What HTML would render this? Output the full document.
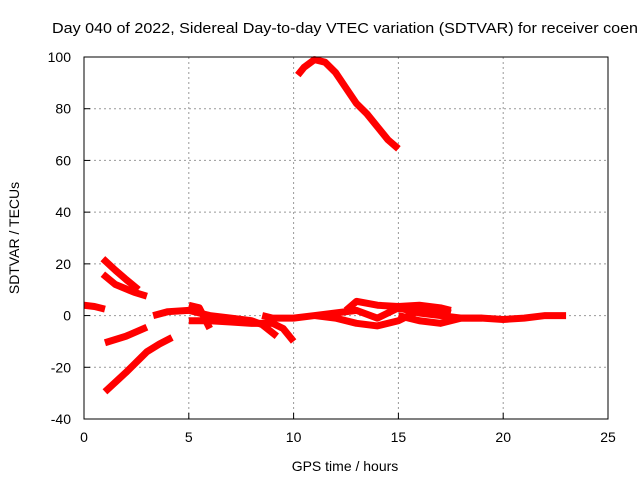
<!DOCTYPE html>
<html><head><meta charset="utf-8"><style>
body{margin:0;background:#fff}
svg{display:block;font-family:"Liberation Sans",sans-serif}
</style></head><body>
<svg id="c" width="640" height="480" viewBox="0 0 640 480">
<text x="52" y="33" font-size="15" textLength="586" lengthAdjust="spacingAndGlyphs" fill="#000">Day 040 of 2022, Sidereal Day-to-day VTEC variation (SDTVAR) for receiver coen</text>
<g id="grid"></g><g id="series"></g><g id="axes"></g>
<text x="345" y="471" font-size="14" text-anchor="middle">GPS time / hours</text>
<text transform="translate(19,238) rotate(-90)" font-size="14" text-anchor="middle">SDTVAR / TECUs</text>
</svg>
<script>
const xTicks=[0,5,10,15,20,25];
const yTicks=[-40,-20,0,20,40,60,80,100];
const s1=[[0,4],[0.5,3.5],[1,2.5]];
const s2=[[0.9,22],[1.5,17.5],[2,14],[2.6,10]];
const s3=[[0.9,16],[1.5,12],[2.4,9],[3.0,7.5]];
const s4=[[1,-10.5],[2,-8],[3,-4.5]];
const s5=[[1,-29.5],[2,-22],[3,-14],[3.6,-11],[4.2,-8.5]];
const s6=[[3.3,0],[4,1.5],[5,2],[5.5,1],[6,0],[7,-1],[8,-2],[8.5,-3.5],[9.2,-8]];
const s7=[[5,4],[5.5,3],[6,-5]];
const s8=[[5,-2],[6,-2],[7,-2.5],[8,-3],[9,-3],[9.5,-5],[10,-10]];
const s9=[[8.5,0],[9,-1],[10,-1],[11,0],[12,1],[13,2],[14,-1],[15,3],[16,1],[17,0],[18,-1],[19,-1],[20,-1.5],[21,-1],[22,0],[23,0]];
const s10=[[11,0],[12,-1],[13,-3],[14,-4],[15,-2],[16,2],[17,2],[17.5,1]];
const s11=[[12.5,2],[13,5.5],[14,4],[15,3.5],[16,4],[17,3],[17.5,2]];
const s12=[[15,0],[16,-2],[17,-3],[18,-1],[19,-1]];
const s13=[[10.2,93],[10.5,96],[11,99],[11.5,98],[12,94],[12.5,88],[13,82],[13.5,78],[14,73],[14.5,68],[15,64.5]];
const allSeries=[s1,s2,s3,s4,s5,s6,s7,s8,s9,s10,s11,s12,s13];
const L=84,R=608,T=57,B=419,NS="http://www.w3.org/2000/svg";
const X=h=>L+(h-0)/25*(R-L), Y=v=>B-(v+40)/140*(B-T);
function mk(t,a,p){const e=document.createElementNS(NS,t);for(const k in a)e.setAttribute(k,a[k]);p.appendChild(e);return e;}
const g=document.getElementById('grid'),ax=document.getElementById('axes'),sg=document.getElementById('series');
xTicks.forEach(t=>{
 if(t>0&&t<25){const l=mk('line',{x1:X(t),x2:X(t),y1:T,y2:B,stroke:'#999','stroke-dasharray':'2,3'},g);
 }
 const tk=mk('line',{x1:X(t),x2:X(t),y1:B,y2:B-6,stroke:'#000'},ax);
 
 const tx=mk('text',{x:X(t),y:B+23,'font-size':14,'text-anchor':'middle'},ax);tx.textContent=t;
 
});
yTicks.forEach(t=>{
 if(t>-40&&t<100){const l=mk('line',{x1:L,x2:R,y1:Y(t),y2:Y(t),stroke:'#999','stroke-dasharray':'2,3'},g);
 }
 const tk=mk('line',{x1:L,x2:L+6,y1:Y(t),y2:Y(t),stroke:'#000'},ax);
 
 const tx=mk('text',{x:L-13,y:Y(t)+5,'font-size':14,'text-anchor':'end'},ax);tx.textContent=t;
 
});
const fr=mk('rect',{x:L,y:T,width:R-L,height:B-T,fill:'none',stroke:'#000'},ax);

allSeries.forEach(s=>{
 const p=mk('polyline',{points:s.map(d=>X(d[0])+','+Y(d[1])).join(' '),fill:'none',stroke:'#f00','stroke-width':7,'stroke-linejoin':'round','stroke-linecap':'butt'},sg);
 
});
</script>
</body></html>
